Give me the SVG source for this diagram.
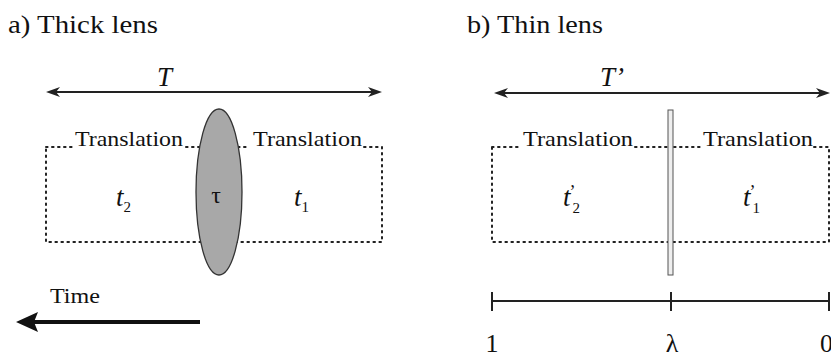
<svg xmlns="http://www.w3.org/2000/svg" width="831" height="357" viewBox="0 0 831 357">
<g id="panel-a">
  <text font-family="Liberation Serif" font-size="26" fill="#111" x="8" y="33" textLength="150" lengthAdjust="spacingAndGlyphs">a) Thick lens</text>
  <g id="span-T">
    <text font-family="Liberation Serif" font-size="27" font-style="italic" fill="#111" x="157" y="86">T</text>
  </g>
  <g id="box-a">
    <path fill="none" stroke="#222" stroke-width="2" stroke-dasharray="1.6 4.4" stroke-linecap="round" d="M46,147 H73 M186,147 H200 M238,147 H250 M364,147 H382 V242 H46 V147"/>
  </g>
  <g id="translation-a2">
    <text font-family="Liberation Serif" font-size="22" fill="#111" x="75" y="146" textLength="108" lengthAdjust="spacingAndGlyphs">Translation</text>
    <text font-family="Liberation Serif" font-size="27" font-style="italic" fill="#111" x="116" y="206">t<tspan font-size="15" font-style="normal" dy="6">2</tspan></text>
  </g>
  <g id="translation-a1">
    <text font-family="Liberation Serif" font-size="22" fill="#111" x="253" y="146" textLength="109" lengthAdjust="spacingAndGlyphs">Translation</text>
    <text font-family="Liberation Serif" font-size="27" font-style="italic" fill="#111" x="294" y="206">t<tspan font-size="15" font-style="normal" dy="6">1</tspan></text>
  </g>
  <g id="lens-thick">
    <ellipse cx="219" cy="192" rx="23" ry="83" fill="#a8a8a8" stroke="#333" stroke-width="1.3"/>
    <text font-family="Liberation Serif" font-size="24" fill="#111" x="216" y="203" text-anchor="middle">τ</text>
  </g>
  <g id="time">
    <text font-family="Liberation Serif" font-size="21" fill="#111" x="50" y="303" textLength="50" lengthAdjust="spacingAndGlyphs">Time</text>
  </g>
</g>

<g id="panel-b">
  <text font-family="Liberation Serif" font-size="26" fill="#111" x="467" y="33" textLength="136" lengthAdjust="spacingAndGlyphs">b) Thin lens</text>
  <g id="span-Tp">
    <text font-family="Liberation Serif" font-size="27" font-style="italic" fill="#111" x="600" y="86">T’</text>
  </g>
  <g id="box-b">
    <path fill="none" stroke="#222" stroke-width="2" stroke-dasharray="1.6 4.4" stroke-linecap="round" d="M492,147 H522 M635,147 H667 M674,147 H701 M814,147 H829 V242 H492 V147"/>
  </g>
  <g id="translation-b2">
    <text font-family="Liberation Serif" font-size="22" fill="#111" x="523" y="146" textLength="110" lengthAdjust="spacingAndGlyphs">Translation</text>
    <text font-family="Liberation Serif" font-size="27" font-style="italic" fill="#111" x="563" y="206">t<tspan font-style="normal" font-size="18" dx="-1" dy="-8">’</tspan><tspan font-size="15" font-style="normal" dx="-3" dy="15">2</tspan></text>
  </g>
  <g id="translation-b1">
    <text font-family="Liberation Serif" font-size="22" fill="#111" x="703" y="146" textLength="110" lengthAdjust="spacingAndGlyphs">Translation</text>
    <text font-family="Liberation Serif" font-size="27" font-style="italic" fill="#111" x="743" y="206">t<tspan font-style="normal" font-size="18" dx="-1" dy="-8">’</tspan><tspan font-size="15" font-style="normal" dx="-3" dy="15">1</tspan></text>
  </g>
  <g id="lens-thin">
    <rect x="668" y="110" width="5" height="165" fill="#eee" stroke="#555" stroke-width="1"/>
  </g>
  <g id="scale">
    <path fill="none" stroke="#222" stroke-width="2" d="M492,301 H830 M492,292 V311 M671,292 V311 M829,292 V311"/>
    <text font-family="Liberation Serif" font-size="26" fill="#111" x="492" y="352" text-anchor="middle">1</text>
    <text font-family="Liberation Serif" font-size="26" fill="#111" x="672" y="352" text-anchor="middle">λ</text>
    <text font-family="Liberation Serif" font-size="26" fill="#111" x="820" y="352">0</text>
  </g>
</g>

<g id="connectors">
  <path fill="none" stroke="#222" stroke-width="2" d="M50,92 H378 M498,93 H826"/>
  <path fill="#222" d="M46,92 L60,87 L56,92 L60,97 Z M382,92 L368,87 L372,92 L368,97 Z M494,93 L508,88 L504,93 L508,98 Z M830,93 L816,88 L820,93 L816,98 Z"/>
  <path fill="none" stroke="#111" stroke-width="4" d="M200,322 H30"/>
  <path fill="#111" d="M16,322 L38,312 L34,322 L38,332 Z"/>
</g>
</svg>
